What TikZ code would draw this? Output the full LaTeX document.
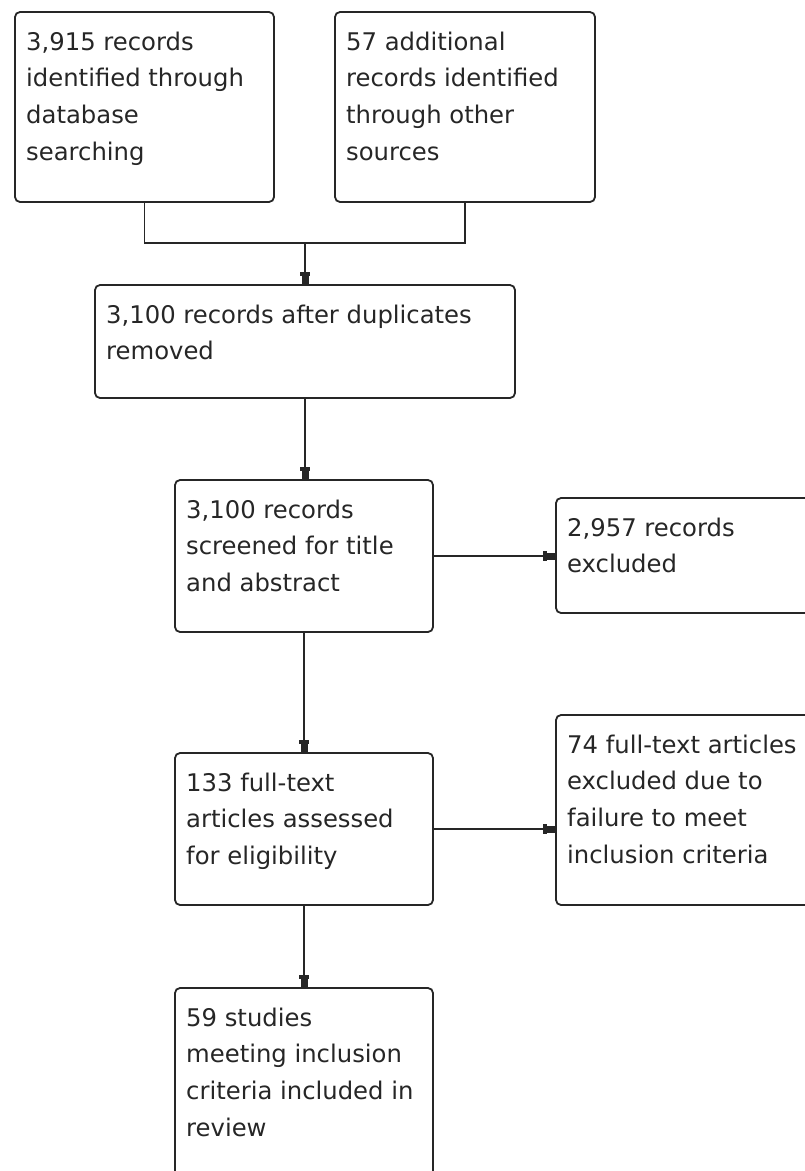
\documentclass[tikz,border=0pt]{standalone}
\usepackage{fontspec}
\setmainfont{DejaVu Sans}
\usetikzlibrary{arrows.meta}
\begin{document}
\begin{tikzpicture}[x=1pt,y=-1pt,
  box/.style={draw=black!85, line width=1.8pt, rounded corners=5pt, anchor=north west, inner sep=0pt, outer sep=0pt},
  txt/.style={anchor=base west, inner sep=0pt, text=black!85, font=\fontsize{24.3}{36.8}\selectfont},
  conn/.style={draw=black!85, line width=1.8pt},
  arr/.style={conn, -{Rectangle[length=4pt,width=10pt,sep=0pt]Rectangle[length=9pt,width=7pt]}}]
\useasboundingbox (0,0) rectangle (805,1171);
\clip (0,0) rectangle (805,1171);
% boxes
\node[box, minimum width=259pt, minimum height=190pt] (A) at (15,12) {};
\node[box, minimum width=260pt, minimum height=190pt] (B) at (335,12) {};
\node[box, minimum width=420pt, minimum height=113pt] (C) at (95,285) {};
\node[box, minimum width=258pt, minimum height=152pt] (D) at (175,480) {};
\node[box, minimum width=270pt, minimum height=115pt] (E) at (556,498) {};
\node[box, minimum width=258pt, minimum height=152pt] (F) at (175,753) {};
\node[box, minimum width=270pt, minimum height=190pt] (G) at (556,715) {};
\node[box, minimum width=258pt, minimum height=220pt] (H) at (175,988) {};
% texts
\node[txt] (tA) at ([shift={(11,38)}]A.north west) {\parbox[t]{300pt}{\raggedright 3,915 records\\identified through\\database\\searching}};
\node[txt] (tB) at ([shift={(11,38)}]B.north west) {\parbox[t]{300pt}{\raggedright 57 additional\\records identified\\through other\\sources}};
\node[txt] (tC) at ([shift={(11,38)}]C.north west) {\parbox[t]{420pt}{\raggedright 3,100 records after duplicates\\removed}};
\node[txt] (tD) at ([shift={(11,38)}]D.north west) {\parbox[t]{300pt}{\raggedright 3,100 records\\screened for title\\and abstract}};
\node[txt] (tE) at ([shift={(11,38)}]E.north west) {\parbox[t]{300pt}{\raggedright 2,957 records\\excluded}};
\node[txt] (tF) at ([shift={(11,38)}]F.north west) {\parbox[t]{300pt}{\raggedright 133 full-text\\articles assessed\\for eligibility}};
\node[txt] (tG) at ([shift={(11,38)}]G.north west) {\parbox[t]{300pt}{\raggedright 74 full-text articles\\excluded due to\\failure to meet\\inclusion criteria}};
\node[txt] (tH) at ([shift={(11,38)}]H.north west) {\parbox[t]{300pt}{\raggedright 59 studies\\meeting inclusion\\criteria included in\\review}};
% connectors
\coordinate (m) at (305,243);
\draw[conn] (A.south) |- (m) -| (B.south);
\draw[arr] (m) -- (C.north);
\draw[arr] (C.south) -- (C.south |- D.north);
\draw[arr] (D.east) -- (D.east -| E.west);
\draw[arr] (D.south) -- (F.north);
\draw[arr] (F.east) -- (F.east -| G.west);
\draw[arr] (F.south) -- (H.north);
\end{tikzpicture}
\end{document}
